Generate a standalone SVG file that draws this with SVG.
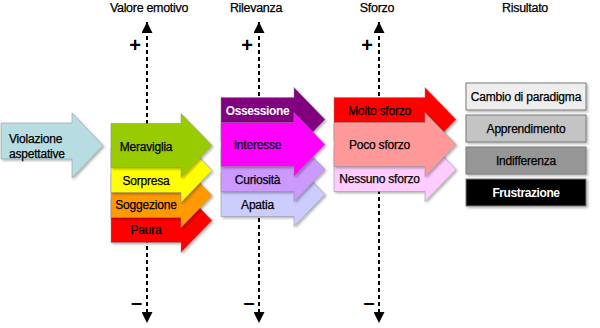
<svg xmlns="http://www.w3.org/2000/svg" width="600" height="328" viewBox="0 0 600 328">
<style>
text{font-family:"Liberation Sans",Arial,sans-serif;fill:#000}
.t{font-size:12.5px;letter-spacing:-0.3px;text-anchor:middle;stroke:#000;stroke-width:0.25}
.l{font-size:12px;letter-spacing:-0.2px;text-anchor:middle;stroke:#000;stroke-width:0.25}
.w{fill:#fff;stroke:none;font-weight:bold;letter-spacing:-0.4px}
.s{font-size:20px;font-weight:bold;text-anchor:middle}
.arr{stroke:#8a8a8a;stroke-width:0.5;filter:url(#sh)}
.box{stroke:#7a7a7a;stroke-width:1;filter:url(#sh)}
.ax{stroke:#000;stroke-width:2;stroke-dasharray:4 3;fill:none;marker-start:url(#mh);marker-end:url(#mh)}
</style>
<defs>
<filter id="sh" x="-10%" y="-10%" width="130%" height="130%">
<feDropShadow dx="1.5" dy="1.5" stdDeviation="1" flood-color="#000" flood-opacity="0.3"/>
</filter>
<marker id="mh" viewBox="0 0 10 10" markerUnits="userSpaceOnUse" markerWidth="11" markerHeight="11" refX="10" refY="5" orient="auto-start-reverse">
<path d="M0,0 L10,5 L0,10 z" fill="#000"/>
</marker>
</defs>
<rect width="600" height="328" fill="#fff"/>

<g id="titles">
<text class="t" x="149" y="12">Valore emotivo</text>
<text class="t" x="256" y="12">Rilevanza</text>
<text class="t" x="377" y="12">Sforzo</text>
<text class="t" x="525" y="12">Risultato</text>
</g>

<g id="connectors">
<line class="ax" x1="147" y1="22" x2="147" y2="323"/>
<line class="ax" x1="259" y1="22" x2="259" y2="323"/>
<line class="ax" x1="379" y1="22" x2="379" y2="323"/>
<text class="s" x="135" y="52">+</text>
<text class="s" x="247" y="52">+</text>
<text class="s" x="367" y="52">+</text>
<text class="s" x="136.5" y="309">–</text>
<text class="s" x="249" y="309">–</text>
<text class="s" x="369" y="309">–</text>
</g>

<g id="violazione">
<path class="arr" d="M1,123 H72 V113 L103,145.5 L72,178 V159 H1 Z" fill="#b7dde3"/>
<text class="l" x="9" y="143" style="text-anchor:start">Violazione</text>
<text class="l" x="9" y="158" style="text-anchor:start">aspettative</text>
</g>

<g id="paura">
<path class="arr" d="M111,198.5 H181 V188.5 L212,220.5 L181,252.5 V242.5 H111 Z" fill="#ff0000"/>
<text class="l" x="146" y="234">Paura</text>
</g>
<g id="soggezione">
<path class="arr" d="M111,173.5 H181 V163.5 L212,195.5 L181,227.5 V217.5 H111 Z" fill="#ff9900"/>
<text class="l" x="146" y="209">Soggezione</text>
</g>
<g id="sorpresa">
<path class="arr" d="M111,148.5 H181 V138.5 L212,170.5 L181,202.5 V192.5 H111 Z" fill="#ffff00"/>
<text class="l" x="146" y="185">Sorpresa</text>
</g>
<g id="meraviglia">
<path class="arr" d="M111,123.5 H181 V113.5 L212,145.5 L181,177.5 V167.5 H111 Z" fill="#99cc00"/>
<text class="l" x="146" y="151">Meraviglia</text>
</g>

<g id="ossessione">
<path class="arr" d="M221,97.5 H294 V87.5 L325,119.5 L294,151.5 V141.5 H221 Z" fill="#800080"/>
<text class="l w" x="257.5" y="115">Ossessione</text>
</g>
<g id="apatia">
<path class="arr" d="M221,172.5 H294 V162.5 L325,194.5 L294,226.5 V216.5 H221 Z" fill="#ccccff"/>
<text class="l" x="257.5" y="209">Apatia</text>
</g>
<g id="curiosita">
<path class="arr" d="M221,147.5 H294 V137.5 L325,169.5 L294,201.5 V191.5 H221 Z" fill="#cc99ff"/>
<text class="l" x="257.5" y="184">Curiosità</text>
</g>
<g id="interesse">
<path class="arr" d="M221,122.5 H294 V112.5 L325,144.5 L294,176.5 V166.5 H221 Z" fill="#ff00ff"/>
<text class="l" x="257.5" y="149">Interesse</text>
</g>

<g id="molto-sforzo">
<path class="arr" d="M334,97.5 H425 V87.5 L456,119.5 L425,151.5 V141.5 H334 Z" fill="#ff0000"/>
<text class="l" x="379.5" y="115">Molto sforzo</text>
</g>
<g id="nessuno-sforzo">
<path class="arr" d="M334,147.5 H425 V137.5 L456,169.5 L425,201.5 V191.5 H334 Z" fill="#ffccff"/>
<text class="l" x="379.5" y="183">Nessuno sforzo</text>
</g>
<g id="poco-sforzo">
<path class="arr" d="M334,122.5 H425 V112.5 L456,144.5 L425,176.5 V166.5 H334 Z" fill="#ff9999"/>
<text class="l" x="379.5" y="149">Poco sforzo</text>
</g>

<g id="cambio">
<rect class="box" x="466" y="83" width="120" height="27" fill="#eeeeee"/>
<text class="l" x="526" y="101">Cambio di paradigma</text>
</g>
<g id="apprendimento">
<rect class="box" x="466" y="115" width="120" height="27" fill="#c4c4c4"/>
<text class="l" x="526" y="133">Apprendimento</text>
</g>
<g id="indifferenza">
<rect class="box" x="466" y="147" width="120" height="27" fill="#969696"/>
<text class="l" x="526" y="165">Indifferenza</text>
</g>
<g id="frustrazione">
<rect class="box" x="466" y="179" width="120" height="27" fill="#000000"/>
<text class="l w" x="526" y="197">Frustrazione</text>
</g>
</svg>
